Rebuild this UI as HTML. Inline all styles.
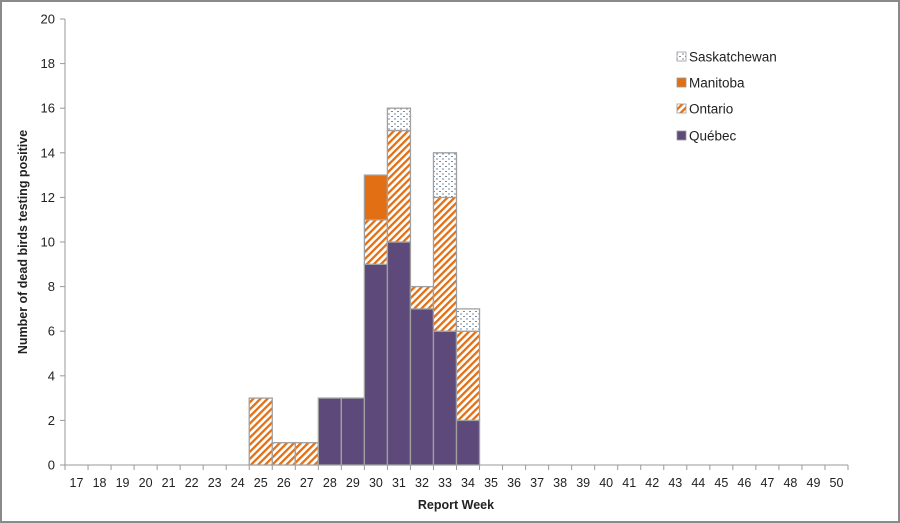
<!DOCTYPE html>
<html><head><meta charset="utf-8"><style>
html,body{margin:0;padding:0;background:#fff;}
#wrap{width:900px;height:523px;position:relative;box-sizing:border-box;border:2px solid #8a8a8a;overflow:hidden;}
svg{position:absolute;left:-2px;top:-2px;}
text{font-family:"Liberation Sans",sans-serif;fill:#222;}
</style></head><body>
<div id="wrap">
<svg id="chart" width="900" height="523">
<defs>
<pattern id="hatch" patternUnits="userSpaceOnUse" width="5" height="5" patternTransform="rotate(45)">
<rect width="5" height="5" fill="#fff"/><rect width="2.3" height="5" fill="#e26f14"/>
</pattern>
<pattern id="dots" patternUnits="userSpaceOnUse" width="6" height="5">
<rect width="6" height="5" fill="#fff"/><rect x="1" y="1" width="2" height="1" fill="#7a8aa0"/><rect x="4" y="3.5" width="2" height="1" fill="#7a8aa0"/>
</pattern>
</defs>
</svg>
</div>
<script>
const weeks=[17,18,19,20,21,22,23,24,25,26,27,28,29,30,31,32,33,34,35,36,37,38,39,40,41,42,43,44,45,46,47,48,49,50];
const quebec=[0,0,0,0,0,0,0,0,0,0,0,3,3,9,10,7,6,2,0,0,0,0,0,0,0,0,0,0,0,0,0,0,0,0];
const ontario=[0,0,0,0,0,0,0,0,3,1,1,0,0,2,5,1,6,4,0,0,0,0,0,0,0,0,0,0,0,0,0,0,0,0];
const manitoba=[0,0,0,0,0,0,0,0,0,0,0,0,0,2,0,0,0,0,0,0,0,0,0,0,0,0,0,0,0,0,0,0,0,0];
const saskatchewan=[0,0,0,0,0,0,0,0,0,0,0,0,0,0,1,0,2,1,0,0,0,0,0,0,0,0,0,0,0,0,0,0,0,0];
const yTicks=[0,2,4,6,8,10,12,14,16,18,20];

const svg=document.getElementById('chart');
const NS='http://www.w3.org/2000/svg';
const X0=65,X1=848,Y0=465,Y1=19,YMAX=20;
const bw=(X1-X0)/weeks.length;
function xs(i){return X0+i*bw;}
function ys(v){return Y0-(v/YMAX)*(Y0-Y1);}
function mk(tag,attrs){const e=document.createElementNS(NS,tag);for(const k in attrs)e.setAttribute(k,attrs[k]);svg.appendChild(e);return e;}

let ax=mk('line',{x1:X0,y1:Y1,x2:X0,y2:Y0,stroke:'#999','stroke-width':1});


let axx=mk('line',{x1:X0,y1:Y0,x2:X1,y2:Y0,stroke:'#999','stroke-width':1});


yTicks.forEach(v=>{
  const t=mk('line',{x1:X0-5,y1:ys(v),x2:X0,y2:ys(v),stroke:'#999'});
  
  
  const l=mk('text',{x:55,y:ys(v)+4.5,'text-anchor':'end','font-size':13});
  l.textContent=v;
  
  
});
for(let i=0;i<=weeks.length;i++){
  const t=mk('line',{x1:xs(i),y1:Y0,x2:xs(i),y2:Y0+5,stroke:'#999'});
  
  
}
weeks.forEach((w,i)=>{
  const l=mk('text',{x:xs(i)+bw/2,y:487,'text-anchor':'middle','font-size':12.5});
  l.textContent=w;
  
  
});

const series=[['quebec',quebec,'#5e4a7a'],['ontario',ontario,'url(#hatch)'],['manitoba',manitoba,'#e26f14'],['saskatchewan',saskatchewan,'url(#dots)']];
weeks.forEach((w,i)=>{
  let base=0;
  series.forEach(([nm,arr,fill])=>{
    const v=arr[i];
    if(v>0){
      const r=mk('rect',{x:xs(i),y:ys(base+v),width:bw,height:ys(base)-ys(base+v),fill:fill,stroke:'#a0a0a0','stroke-width':1.3});
      
      
    }
    base+=v;
  });
});

const leg=[['Saskatchewan','url(#dots)',57],['Manitoba','#e26f14',83],['Ontario','url(#hatch)',109],['Québec','#5e4a7a',136]];
leg.forEach(([n,f,y])=>{
  const r=mk('rect',{x:677,y:y-5,width:9,height:9,fill:f,stroke:'#999','stroke-width':0.8});
  
  
  const t=mk('text',{x:689,y:y+4.5,'font-size':13.5});
  t.textContent=n;
  
  
});

const xt=mk('text',{x:456,y:509,'text-anchor':'middle','font-size':12.5,'font-weight':'bold'});
xt.textContent='Report Week';


const yt=mk('text',{x:0,y:0,'text-anchor':'middle','font-size':12.5,'font-weight':'bold',transform:'translate(27,242) rotate(-90)'});
yt.textContent='Number of dead birds testing positive';


</script>
</body></html>
